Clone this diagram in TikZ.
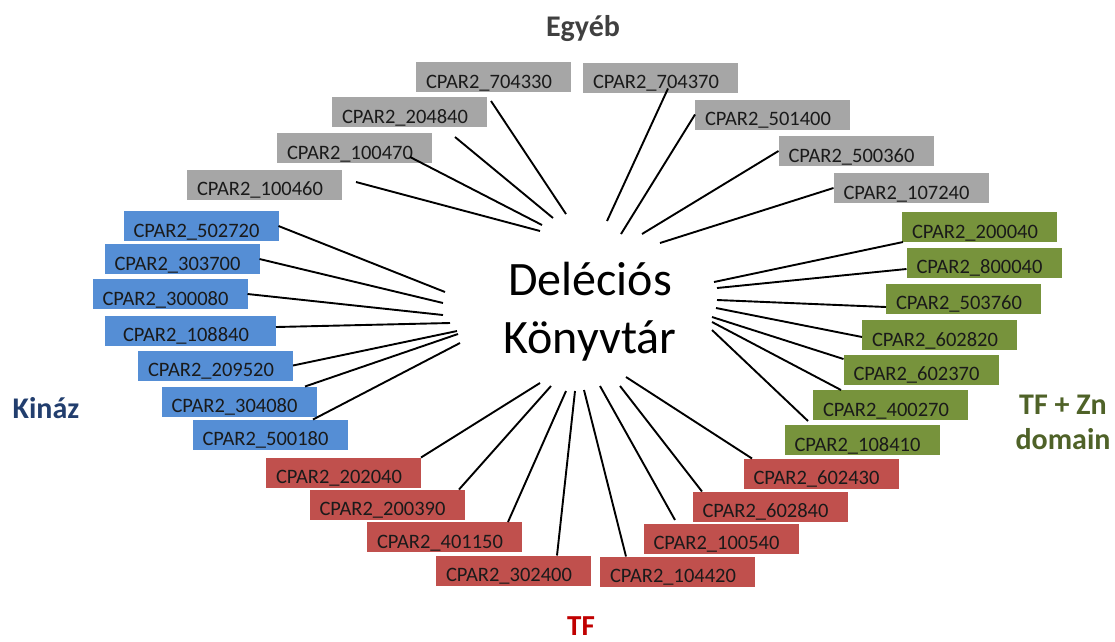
\documentclass[tikz,border=0pt]{standalone}
\usepackage{fontspec}
\setmainfont{Carlito}
\definecolor{boxgray}{HTML}{A6A6A6}
\definecolor{boxblue}{HTML}{558ED5}
\definecolor{boxgreen}{HTML}{77933C}
\definecolor{boxred}{HTML}{C0504D}
\definecolor{txt}{HTML}{1A1A1A}
\definecolor{ttlgray}{HTML}{404040}
\definecolor{ttlred}{HTML}{C00000}
\definecolor{ttlgreen}{HTML}{4F6228}
\definecolor{ttlblue}{HTML}{223E6E}
\begin{document}
\begin{tikzpicture}[x=1pt,y=-1pt,
  box/.style={rectangle, inner sep=0pt, outer sep=0pt, minimum width=155pt, minimum height=30pt,
    text width=135pt, align=left, text height=22pt, text depth=0pt,
    font=\fontsize{20.5}{24}\selectfont, text=txt},
  gbox/.style={box, fill=boxgray},
  bbox/.style={box, fill=boxblue},
  nbox/.style={box, fill=boxgreen},
  rbox/.style={box, fill=boxred},
  link/.style={draw=black, line width=1.9pt},
  ttl/.style={font=\fontsize{30}{35}\selectfont\bfseries, inner sep=0pt, align=center}
]
\useasboundingbox (0,0) rectangle (1115,641);

% centre
\node[font=\fontsize{48}{58}\selectfont, text=black, align=center, inner sep=0pt] (center) at (590,312) {Deléciós\\Könyvtár};

% titles
\node[ttl, text=ttlgray, anchor=base] (tEgyeb) at (583,36) {Egyéb};
\node[ttl, font=\fontsize{29}{34}\selectfont\bfseries, text=ttlred, anchor=base] (tTF) at (581,635) {TF};
\node[ttl, text=ttlblue, anchor=base] (tKinaz) at (46,418) {Kináz};
\node[ttl, text=ttlgreen] (tZn) at (1063,422) {TF + Zn\\domain};

% gray boxes
\node[gbox] (g1) at (493.5,77) {CPAR2\_704330};
\node[gbox] (g2) at (409.5,112) {CPAR2\_204840};
\node[gbox] (g3) at (354.5,148) {CPAR2\_100470};
\node[gbox] (g4) at (264.5,184.5) {CPAR2\_100460};
\node[gbox] (g5) at (660.5,77.5) {CPAR2\_704370};
\node[gbox] (g6) at (772.5,114.5) {CPAR2\_501400};
\node[gbox] (g7) at (856,151) {CPAR2\_500360};
\node[gbox] (g8) at (911,188) {CPAR2\_107240};

% blue boxes
\node[bbox] (b1) at (201,226) {CPAR2\_502720};
\node[bbox] (b2) at (182,259) {CPAR2\_303700};
\node[bbox] (b3) at (170,294) {CPAR2\_300080};
\node[bbox, minimum width=171pt] (b4) at (190.5,330.5) {CPAR2\_108840};
\node[bbox] (b5) at (215.5,365.5) {CPAR2\_209520};
\node[bbox] (b6) at (239,401.5) {CPAR2\_304080};
\node[bbox] (b7) at (270,434.5) {CPAR2\_500180};

% green boxes
\node[nbox] (n1) at (979.5,227) {CPAR2\_200040};
\node[nbox] (n2) at (984,262.5) {CPAR2\_800040};
\node[nbox] (n3) at (963.5,298.5) {CPAR2\_503760};
\node[nbox] (n4) at (939.5,335) {CPAR2\_602820};
\node[nbox] (n5) at (921,369.5) {CPAR2\_602370};
\node[nbox] (n6) at (890.5,405) {CPAR2\_400270};
\node[nbox] (n7) at (862,440) {CPAR2\_108410};

% red boxes
\node[rbox] (r1) at (343.5,472.5) {CPAR2\_202040};
\node[rbox] (r2) at (387,504.5) {CPAR2\_200390};
\node[rbox] (r3) at (444.5,537) {CPAR2\_401150};
\node[rbox] (r4) at (513.5,570.5) {CPAR2\_302400};
\node[rbox] (r5) at (677.5,571.5) {CPAR2\_104420};
\node[rbox] (r6) at (721,538.5) {CPAR2\_100540};
\node[rbox] (r7) at (770,506.5) {CPAR2\_602840};
\node[rbox] (r8) at (821,473.5) {CPAR2\_602430};

% inner ends
\coordinate (eg1) at (566,214);
\coordinate (eg2) at (553,218);
\coordinate (eg3) at (542,225);
\coordinate (eg4) at (540,231);
\coordinate (eg5) at (607,221);
\coordinate (eg6) at (621,234);
\coordinate (eg7) at (642,234);
\coordinate (eg8) at (660,243);
\coordinate (eb1) at (445,292);
\coordinate (eb2) at (443,303);
\coordinate (eb3) at (443,315);
\coordinate (eb4) at (450,323);
\coordinate (eb5) at (457,331);
\coordinate (eb6) at (458,334);
\coordinate (eb7) at (460,343);
\coordinate (en1) at (714,282);
\coordinate (en2) at (717,288);
\coordinate (en3) at (717,300);
\coordinate (en4) at (716,308);
\coordinate (en5) at (712,317);
\coordinate (en6) at (712,322);
\coordinate (en7) at (712,330);
\coordinate (er1) at (540,383);
\coordinate (er2) at (551,386);
\coordinate (er3) at (566,391);
\coordinate (er4) at (575,391);
\coordinate (er5) at (584,390);
\coordinate (er6) at (600,386);
\coordinate (er7) at (620,386);
\coordinate (er8) at (626,377);

% connectors
\draw[link] ([xshift=-2.5pt,yshift=-9pt]g1.south) -- (eg1);
\draw[link] ([xshift=45.5pt,yshift=-10pt]g2.south) -- (eg2);
\draw[link] ([xshift=55.5pt,yshift=-9pt]g3.center) -- (eg3);
\draw[link] ([xshift=14pt,yshift=2.5pt]g4.east) -- (eg4);
\draw[link] ([xshift=7.5pt,yshift=-11pt]g5.center) -- (eg5);
\draw[link] (g6.west) -- (eg6);
\draw[link] (g7.west) -- (eg7);
\draw[link] (g8.west) -- (eg8);
\draw[link] (b1.east) -- (eb1);
\draw[link] (b2.east) -- (eb2);
\draw[link] (b3.east) -- (eb3);
\draw[link] ([yshift=3.5pt]b4.east) -- (eb4);
\draw[link] (b5.east) -- (eb5);
\draw[link] ([xshift=66pt]b6.north) -- (eb6);
\draw[link] ([xshift=43pt]b7.north) -- (eb7);
\draw[link] ([xshift=1pt]n1.south west) -- (en1);
\draw[link] ([yshift=-6.5pt]n2.west) -- (en2);
\draw[link] ([yshift=-8.5pt]n3.west) -- (en3);
\draw[link] ([yshift=-2pt]n4.west) -- (en4);
\draw[link] ([yshift=10.5pt]n5.west) -- (en5);
\draw[link] ([xshift=-49.5pt]n6.north) -- (en6);
\draw[link] ([xshift=-54pt,yshift=4pt]n7.north) -- (en7);
\draw[link] (r1.north east) -- (er1);
\draw[link] ([xshift=72pt]r2.north) -- (er2);
\draw[link] ([xshift=63.5pt]r3.north) -- (er3);
\draw[link] ([xshift=43.5pt]r4.north) -- (er4);
\draw[link] ([xshift=-51.5pt]r5.north) -- (er5);
\draw[link] ([xshift=-46pt,yshift=3.5pt]r6.north) -- (er6);
\draw[link] ([xshift=-68pt]r7.north) -- (er7);
\draw[link] ([xshift=-69pt]r8.north) -- (er8);
\end{tikzpicture}
\end{document}
